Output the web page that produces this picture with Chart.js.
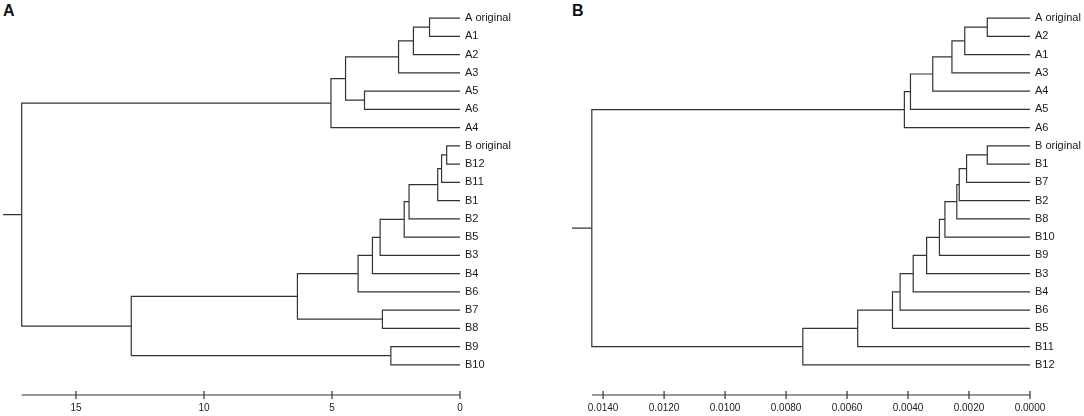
<!DOCTYPE html>
<html>
<head>
<meta charset="utf-8">
<script src="https://cdn.jsdelivr.net/npm/chart.js@4.4.1/dist/chart.umd.min.js"></script>
<style>
  body { margin: 0; background: #fff; width: 1084px; height: 416px; position: relative; overflow: hidden; font-family: "Liberation Sans", Arial, sans-serif; }
  #chartA { position: absolute; left: 0; top: 0; }
  #chartB { position: absolute; left: 560px; top: 0; }
  .tag { position: absolute; top: 2px; font-weight: bold; font-size: 16px; color: #111; }
</style>
</head>
<body>
<div class="tag" style="left:3px">A</div>
<div class="tag" style="left:572px">B</div>
<canvas id="chartA" width="542" height="416"></canvas>
<canvas id="chartB" width="524" height="416"></canvas>
<script>
// Panel A - leaf order top to bottom, merges [left, right, height]
// (a string is a leaf, a number is an earlier merge)
const leavesA = ["A original", "A1", "A2", "A3", "A5", "A6", "A4",
  "B original", "B12", "B11", "B1", "B2", "B5", "B3", "B4", "B6", "B7", "B8", "B9", "B10"];
const mergeA = [
  ["A original", "A1", 1.19],
  [0, "A2", 1.82],
  [1, "A3", 2.40],
  ["A5", "A6", 3.73],
  [2, 3, 4.47],
  [4, "A4", 5.04],
  ["B original", "B12", 0.52],
  [6, "B11", 0.72],
  [7, "B1", 0.87],
  [8, "B2", 1.99],
  [9, "B5", 2.18],
  [10, "B3", 3.12],
  [11, "B4", 3.42],
  [12, "B6", 3.98],
  ["B7", "B8", 3.03],
  [13, 14, 6.35],
  ["B9", "B10", 2.70],
  [15, 16, 12.84],
  [5, 17, 17.12]
];
const ticksA = [0, 5, 10, 15];
const axisEndA = 17.12;
const xMaxA = 17.85;

// Panel B
const leavesB = ["A original", "A2", "A1", "A3", "A4", "A5", "A6",
  "B original", "B1", "B7", "B2", "B8", "B10", "B9", "B3", "B4", "B6", "B5", "B11", "B12"];
const mergeB = [
  ["A original", "A2", 0.00140],
  [0, "A1", 0.00214],
  [1, "A3", 0.00256],
  [2, "A4", 0.00319],
  [3, "A5", 0.00392],
  [4, "A6", 0.00412],
  ["B original", "B1", 0.00140],
  [6, "B7", 0.00208],
  [7, "B2", 0.00232],
  [8, "B8", 0.00240],
  [9, "B10", 0.00279],
  [10, "B9", 0.00297],
  [11, "B3", 0.00339],
  [12, "B4", 0.00383],
  [13, "B6", 0.00426],
  [14, "B5", 0.00451],
  [15, "B11", 0.00565],
  [16, "B12", 0.00745],
  [5, 17, 0.01437]
];
const ticksB = [0, 0.002, 0.004, 0.006, 0.008, 0.010, 0.012, 0.014];
const axisEndB = 0.01436;
const xMaxB = 0.01502;

const lineColor = "#333";

// one polyline per merge: left child -> up/down -> right child
function buildDatasets(leaves, merges, xMax) {
  const nodeY = [], nodeH = [];
  function pos(c) {
    if (typeof c === "string") return { y: leaves.indexOf(c), h: 0 };
    return { y: nodeY[c], h: nodeH[c] };
  }
  const sets = merges.map((m, i) => {
    const a = pos(m[0]), b = pos(m[1]);
    nodeY[i] = (a.y + b.y) / 2;
    nodeH[i] = m[2];
    return [{ x: a.h, y: a.y }, { x: m[2], y: a.y }, { x: m[2], y: b.y }, { x: b.h, y: b.y }];
  });
  const last = merges.length - 1;
  sets.push([{ x: nodeH[last], y: nodeY[last] }, { x: xMax, y: nodeY[last] }]);
  return sets.map(d => ({
    data: d,
    showLine: true,
    borderColor: lineColor,
    borderWidth: 1.2,
    pointRadius: 0,
    tension: 0,
    fill: false
  }));
}

// axis line with ticks crossing it
const axisLine = {
  id: "axisLine",
  afterDraw(chart, args, opts) {
    const xs = chart.scales.x, ctx = chart.ctx, y = chart.chartArea.bottom;
    ctx.save();
    ctx.strokeStyle = lineColor;
    ctx.lineWidth = 1.2;
    ctx.beginPath();
    ctx.moveTo(xs.getPixelForValue(opts.end), y);
    ctx.lineTo(xs.getPixelForValue(0), y);
    opts.ticks.forEach(v => {
      const px = xs.getPixelForValue(v);
      ctx.moveTo(px, y - 4);
      ctx.lineTo(px, y + 4);
    });
    ctx.stroke();
    ctx.restore();
  }
};

function makeChart(id, leaves, merges, ticks, axisEnd, xMax, padLeft, labelWidth, fmt) {
  return new Chart(document.getElementById(id), {
    type: "scatter",
    data: { datasets: buildDatasets(leaves, merges, xMax) },
    plugins: [axisLine],
    options: {
      responsive: false,
      animation: false,
      layout: { padding: { left: padLeft, right: 0, top: 0, bottom: 0 } },
      plugins: {
        legend: { display: false },
        tooltip: { enabled: false },
        axisLine: { end: axisEnd, ticks: ticks }
      },
      scales: {
        x: {
          type: "linear",
          reverse: true,
          min: 0,
          max: xMax,
          grid: { display: false, drawTicks: false },
          border: { display: false },
          afterBuildTicks: s => { s.ticks = ticks.map(v => ({ value: v })); },
          afterFit: s => { s.height = 21; },
          ticks: {
            padding: 7,
            color: "#222",
            font: { family: "'Liberation Sans Narrow', 'Arial Narrow', 'Liberation Sans', Arial", size: 10 },
            callback: v => fmt(v)
          }
        },
        y: {
          type: "linear",
          position: "right",
          reverse: true,
          min: -0.356,
          max: 20.654,
          grid: { display: false, drawTicks: false },
          border: { display: false },
          afterBuildTicks: s => { s.ticks = leaves.map((_, i) => ({ value: i })); },
          afterFit: s => { s.width = labelWidth; },
          ticks: {
            autoSkip: false,
            padding: 5,
            color: "#1a1a1a",
            font: { family: "'Liberation Sans', Arial", size: 11 },
            callback: v => leaves[v]
          }
        }
      }
    }
  });
}

makeChart("chartA", leavesA, mergeA, ticksA, axisEndA, xMaxA, 3, 82, v => String(v));
makeChart("chartB", leavesB, mergeB, ticksB, axisEndB, xMaxB, 12, 54, v => v.toFixed(4));
</script>
</body>
</html>
